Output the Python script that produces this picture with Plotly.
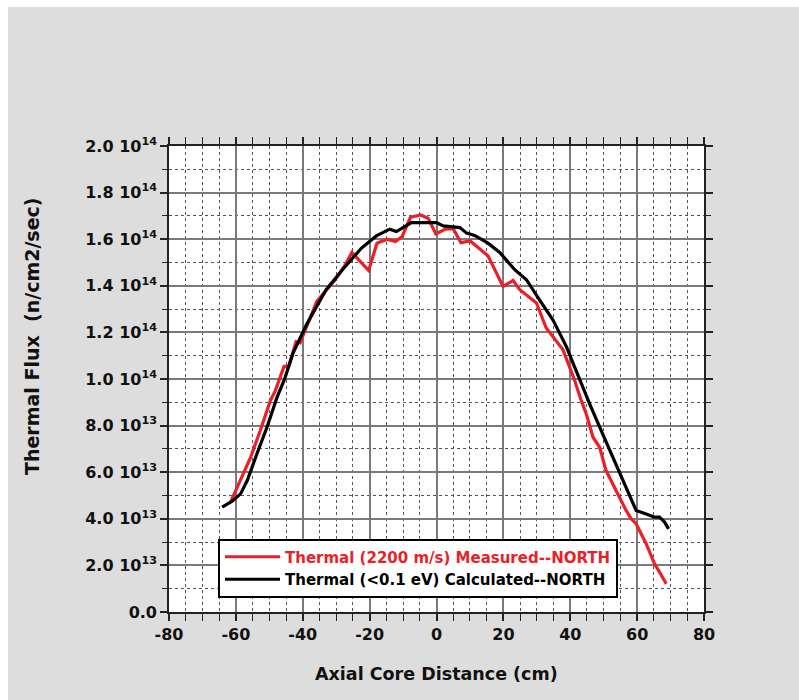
import plotly.graph_objects as go

# Axial position along the core (cm) and thermal flux in units of 1e14 n/cm2/sec
measured_z = [-61.5, -58.6, -55.6, -52.7, -49.7, -48.2, -47.0, -45.6, -44.2, -42.0,
              -40.8, -38.8, -35.8, -30.3, -27.3, -25.3, -20.3, -17.8, -14.8, -12.3,
              -10.3, -7.8, -4.8, -2.5, -0.2, 2.7, 5.0, 7.3, 10.0, 15.4,
              19.9, 22.9, 24.9, 29.9, 32.8, 37.8, 41.3, 43.3, 44.8, 46.8,
              48.8, 50.7, 53.7, 56.7, 58.2, 59.7, 62.7, 65.2, 66.7, 68.7]
measured_flux = [0.475, 0.564, 0.664, 0.779, 0.907, 0.950, 0.997, 1.054, 1.054, 1.160,
                 1.155, 1.226, 1.333, 1.426, 1.490, 1.543, 1.466, 1.583, 1.600, 1.590,
                 1.611, 1.694, 1.704, 1.690, 1.623, 1.643, 1.645, 1.585, 1.593, 1.529,
                 1.397, 1.423, 1.383, 1.326, 1.219, 1.126, 0.995, 0.907, 0.850, 0.750,
                 0.707, 0.607, 0.521, 0.436, 0.400, 0.379, 0.293, 0.207, 0.171, 0.121]

calculated_z = [-64.1, -61.1, -58.6, -56.6, -53.7, -50.7, -47.7, -45.5, -42.9, -38.9,
                -33.0, -28.0, -22.5, -18.0, -14.0, -12.0, -7.5, 0.0, 2.0, 7.0,
                9.0, 11.4, 15.4, 18.9, 23.4, 26.9, 30.8, 34.8, 38.8, 42.8,
                45.8, 48.8, 52.7, 56.7, 59.7, 62.7, 65.2, 66.7, 68.2, 69.4]
calculated_flux = [0.450, 0.476, 0.507, 0.564, 0.679, 0.793, 0.921, 0.997, 1.111, 1.233,
                   1.383, 1.471, 1.561, 1.614, 1.643, 1.633, 1.671, 1.671, 1.657, 1.650,
                   1.626, 1.616, 1.583, 1.543, 1.469, 1.426, 1.340, 1.254, 1.140, 0.995,
                   0.893, 0.793, 0.664, 0.536, 0.436, 0.421, 0.407, 0.407, 0.386, 0.357]

FLUX_UNIT = 1e14

x_tick_vals = [-80, -60, -40, -20, 0, 20, 40, 60, 80]
x_tick_text = ["-80", "-60", "-40", "-20", "0", "20", "40", "60", "80"]

y_tick_vals = [0.0, 0.2, 0.4, 0.6, 0.8, 1.0, 1.2, 1.4, 1.6, 1.8, 2.0]
y_tick_text = ["0.0", "2.0 10<sup>13</sup>", "4.0 10<sup>13</sup>", "6.0 10<sup>13</sup>",
               "8.0 10<sup>13</sup>", "1.0 10<sup>14</sup>", "1.2 10<sup>14</sup>",
               "1.4 10<sup>14</sup>", "1.6 10<sup>14</sup>", "1.8 10<sup>14</sup>",
               "2.0 10<sup>14</sup>"]

measured_name = "Thermal (2200 m/s) Measured--NORTH"
calculated_name = "Thermal (<0.1 eV) Calculated--NORTH"
x_title = "Axial Core Distance (cm)"
y_title = "Thermal Flux  (n/cm2/sec)"

RED = "#ea1f27"
FONT = "DejaVu Sans"
BG = "#dcdddc"

fig = go.Figure()
fig.add_trace(go.Scatter(
    x=measured_z, y=[v * FLUX_UNIT for v in measured_flux], mode="lines",
    name=f'<span style="color:{RED}">{measured_name}</span>',
    line=dict(color=RED, width=3.2)))
fig.add_trace(go.Scatter(
    x=calculated_z, y=[v * FLUX_UNIT for v in calculated_flux], mode="lines",
    name=calculated_name.replace("<", "&lt;"),
    line=dict(color="#000000", width=3.2)))

L, R, T, B = 169, 95, 146, 88
W, H = 799, 700
pw, ph = W - L - R, H - T - B


def px_x(px):
    return (px - L) / pw


def px_y(py):
    return (H - B - py) / ph


axis_common = dict(
    showline=True, linecolor="#222222", linewidth=1.6, mirror="allticks",
    ticks="outside", ticklen=7, tickwidth=1.5, tickcolor="#222222",
    showgrid=True, gridcolor="#7a7a7a", gridwidth=1.5, zeroline=False,
    tickfont=dict(family=FONT, size=16, color="#111111", weight="bold"),
)

fig.update_xaxes(
    range=[-80, 80], tickmode="array", tickvals=x_tick_vals, ticktext=x_tick_text,
    minor=dict(tickmode="linear", tick0=0, dtick=5, showgrid=True, gridcolor="#555555",
               gridwidth=1, griddash="3px,3px", ticks="outside", ticklen=7,
               tickcolor="#222222", tickwidth=1.2),
    **axis_common)
fig.update_yaxes(
    range=[0, 2.0 * FLUX_UNIT], tickmode="array",
    tickvals=[v * FLUX_UNIT for v in y_tick_vals], ticktext=y_tick_text,
    minor=dict(tickmode="linear", tick0=0, dtick=0.1 * FLUX_UNIT, showgrid=True,
               gridcolor="#555555", gridwidth=1, griddash="3px,3px", ticks="outside",
               ticklen=5, tickcolor="#222222", tickwidth=1.2),
    **axis_common)

fig.update_layout(
    width=W, height=H,
    margin=dict(l=L, r=R, t=T, b=B, pad=0),
    paper_bgcolor=BG, plot_bgcolor="#ffffff",
    font=dict(family=FONT, color="#111111"),
    showlegend=True,
    legend=dict(
        x=px_x(218), y=px_y(568), xanchor="left", yanchor="middle",
        bgcolor="#ffffff", bordercolor="#000000", borderwidth=2,
        font=dict(family=FONT, size=15, color="#000000", weight="bold"),
        itemwidth=55, tracegroupgap=0,
    ),
    annotations=[
        dict(text=f"<b>{x_title}</b>", xref="paper", yref="paper",
             x=px_x(436.5), y=px_y(674), xanchor="center", yanchor="middle",
             showarrow=False, font=dict(family=FONT, size=17.5, color="#111111")),
        dict(text=f"<b>{y_title}</b>", xref="paper", yref="paper",
             x=px_x(32), y=px_y(336), xanchor="center", yanchor="middle",
             textangle=-90, showarrow=False,
             font=dict(family=FONT, size=19, color="#111111")),
    ],
    shapes=[
        dict(type="rect", xref="paper", yref="paper", x0=px_x(0), x1=px_x(W),
             y0=px_y(7), y1=px_y(0), fillcolor="#ffffff", line=dict(width=0), layer="below"),
        dict(type="rect", xref="paper", yref="paper", x0=px_x(0), x1=px_x(8),
             y0=px_y(H), y1=px_y(0), fillcolor="#ffffff", line=dict(width=0), layer="below"),
    ],
)

fig.write_html("out.html")
